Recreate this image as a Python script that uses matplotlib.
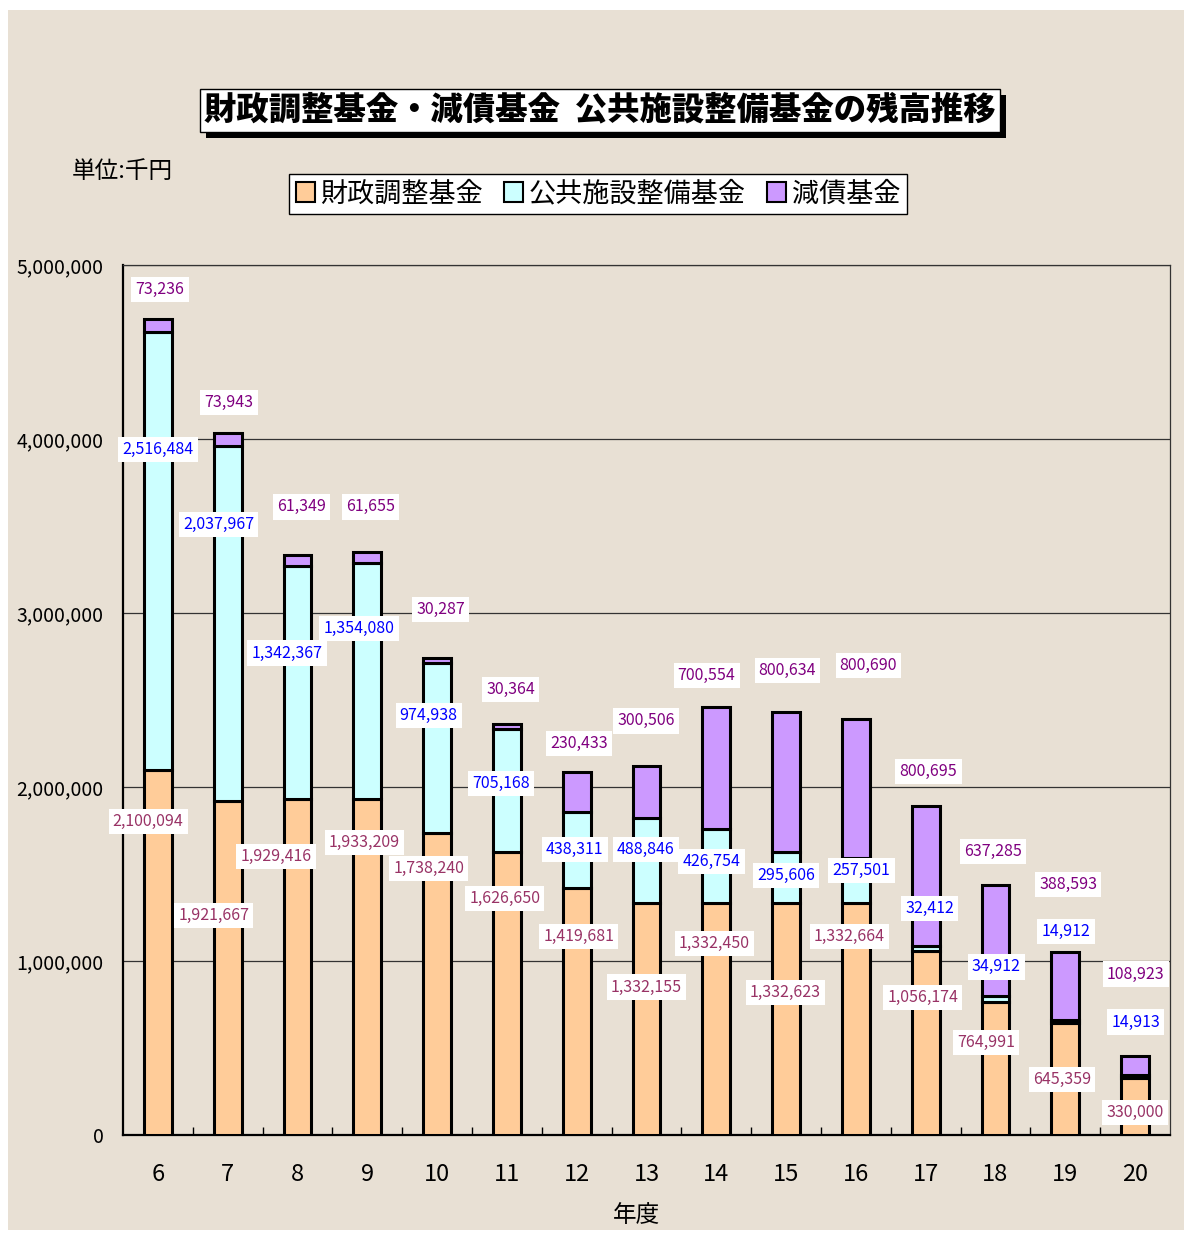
import numpy as np
import matplotlib.pyplot as plt
from matplotlib.patches import Patch, Rectangle

plt.rcParams['font.family'] = ['Noto Sans CJK JP', 'DejaVu Sans']

# 年度別残高（千円）
years = ['6', '7', '8', '9', '10', '11', '12', '13', '14', '15', '16', '17', '18', '19', '20']
zaisei = [2100094, 1921667, 1929416, 1933209, 1738240, 1626650, 1419681, 1332155,
          1332450, 1332623, 1332664, 1056174, 764991, 645359, 330000]
koukyou = [2516484, 2037967, 1342367, 1354080, 974938, 705168, 438311, 488846,
           426754, 295606, 257501, 32412, 34912, 14912, 14913]
gensai = [73236, 73943, 61349, 61655, 30287, 30364, 230433, 300506,
          700554, 800634, 800690, 800695, 637285, 388593, 108923]

# data label placement (x offset in bar units, y in 千円)
zaisei_lx = [-0.14, -0.2, -0.31, -0.04, -0.12, -0.03, 0.03, 0.0, -0.03, -0.01, -0.09, -0.04, -0.14, -0.05, 0.0]
zaisei_ly = [1.80e6, 1.26e6, 1.60e6, 1.68e6, 1.53e6, 1.36e6, 1.14e6, 0.85e6, 1.10e6, 0.82e6, 1.14e6, 0.79e6, 0.53e6, 0.32e6, 0.13e6]
koukyou_lx = [0.0, -0.13, -0.15, -0.12, -0.12, -0.09, -0.03, -0.01, -0.07, 0.0, 0.08, 0.06, 0.01, 0.01, 0.01]
koukyou_ly = [3.94e6, 3.51e6, 2.77e6, 2.91e6, 2.41e6, 2.02e6, 1.64e6, 1.64e6, 1.57e6, 1.49e6, 1.52e6, 1.30e6, 0.966e6, 1.17e6, 0.649e6]
gensai_lx = [0.03, 0.02, 0.06, 0.05, 0.05, 0.05, 0.03, -0.01, -0.14, 0.02, 0.18, 0.04, -0.03, 0.04, 0.01]
gensai_ly = [4.86e6, 4.21e6, 3.61e6, 3.61e6, 3.02e6, 2.56e6, 2.25e6, 2.38e6, 2.64e6, 2.67e6, 2.70e6, 2.09e6, 1.63e6, 1.44e6, 0.925e6]

c_zaisei = '#ffcc99'
c_koukyou = '#ccffff'
c_gensai = '#cc99ff'
bg = '#e8e0d4'

fig = plt.figure(figsize=(11.88, 12.34), dpi=100, facecolor='white')
fig.patches.append(Rectangle((8 / 1188, 4 / 1234), 1176 / 1188, 1220 / 1234,
                             transform=fig.transFigure, facecolor=bg, edgecolor='none', zorder=-5))

ax = fig.add_axes([123 / 1188, 99 / 1234, 1047 / 1188, 870 / 1234])
ax.set_facecolor('none')

x = np.arange(len(years))
zaisei = np.array(zaisei)
koukyou = np.array(koukyou)
gensai = np.array(gensai)
w = 0.4
kw = dict(width=w, edgecolor='black', linewidth=2.2, zorder=3)
ax.bar(x, zaisei, color=c_zaisei, **kw)
ax.bar(x, koukyou, bottom=zaisei, color=c_koukyou, **kw)
ax.bar(x, gensai, bottom=zaisei + koukyou, color=c_gensai, **kw)

box = dict(facecolor='white', edgecolor='none', pad=3)
for i in range(len(years)):
    ax.text(x[i] + zaisei_lx[i], zaisei_ly[i], f'{zaisei[i]:,}', color='#993366',
            fontsize=11.5, ha='center', va='center', bbox=box, zorder=5)
    ax.text(x[i] + koukyou_lx[i], koukyou_ly[i], f'{koukyou[i]:,}', color='#0000ff',
            fontsize=11.5, ha='center', va='center', bbox=box, zorder=5)
    ax.text(x[i] + gensai_lx[i], gensai_ly[i], f'{gensai[i]:,}', color='#800080',
            fontsize=11.5, ha='center', va='center', bbox=box, zorder=5)

ax.set_xlim(-0.5, len(years) - 0.5)
ax.set_ylim(0, 5000000)
ax.set_yticks(np.arange(0, 5000001, 1000000))
ax.yaxis.set_major_formatter(plt.FuncFormatter(lambda v, p: f'{int(v):,}'))
ax.yaxis.grid(True, color='#333333', linewidth=0.9, zorder=1)
ax.set_axisbelow(True)
ax.tick_params(axis='y', length=0, labelsize=14, pad=14)
ax.set_xticks(x)
ax.set_xticklabels(years, fontsize=17)
ax.tick_params(axis='x', length=0, pad=20)
# small separators between categories
ax.set_xticks(np.arange(0.5, len(years) - 0.5, 1), minor=True)
ax.tick_params(axis='x', which='minor', direction='in', length=6, width=1, color='black')
for s in ['left', 'bottom']:
    ax.spines[s].set_linewidth(1.6)
for s in ['right', 'top']:
    ax.spines[s].set_linewidth(0.9)
    ax.spines[s].set_color('#333333')

ax.set_xlabel('年度', fontsize=17)
ax.xaxis.set_label_coords((637 - 123) / 1047, -(1216 - 1135) / 870)
ax.xaxis.label.set_va('center')

# title with drop shadow
fig.patches.append(Rectangle((206 / 1188, 1 - 138 / 1234), 800 / 1188, 43 / 1234,
                             transform=fig.transFigure, facecolor='black', edgecolor='none', zorder=1))
fig.patches.append(Rectangle((200 / 1188, 1 - 132 / 1234), 800 / 1188, 43 / 1234,
                             transform=fig.transFigure, facecolor='white', edgecolor='black',
                             linewidth=1, zorder=2))
fig.text(600 / 1188, 1 - 110 / 1234, '財政調整基金・減債基金  公共施設整備基金の残高推移',
         fontsize=23.3, fontweight='heavy', ha='center', va='center', zorder=3)

fig.text(72 / 1188, 1 - 172 / 1234, '単位:千円', fontsize=17, ha='left', va='center')

handles = [Patch(facecolor=c_zaisei, edgecolor='black', linewidth=1.5, label='財政調整基金'),
           Patch(facecolor=c_koukyou, edgecolor='black', linewidth=1.5, label='公共施設整備基金'),
           Patch(facecolor=c_gensai, edgecolor='black', linewidth=1.5, label='減債基金')]
leg = fig.legend(handles=handles, loc='center', bbox_to_anchor=(598 / 1188, 1 - 194 / 1234),
                 ncol=3, fontsize=19.5, frameon=True, fancybox=False, framealpha=1,
                 edgecolor='black', handlelength=0.7, handleheight=0.8,
                 handletextpad=0.2, columnspacing=0.8, borderpad=0.25, borderaxespad=0)
leg.get_frame().set_linewidth(1)

fig.savefig('out.png', dpi=100, facecolor=fig.get_facecolor())
